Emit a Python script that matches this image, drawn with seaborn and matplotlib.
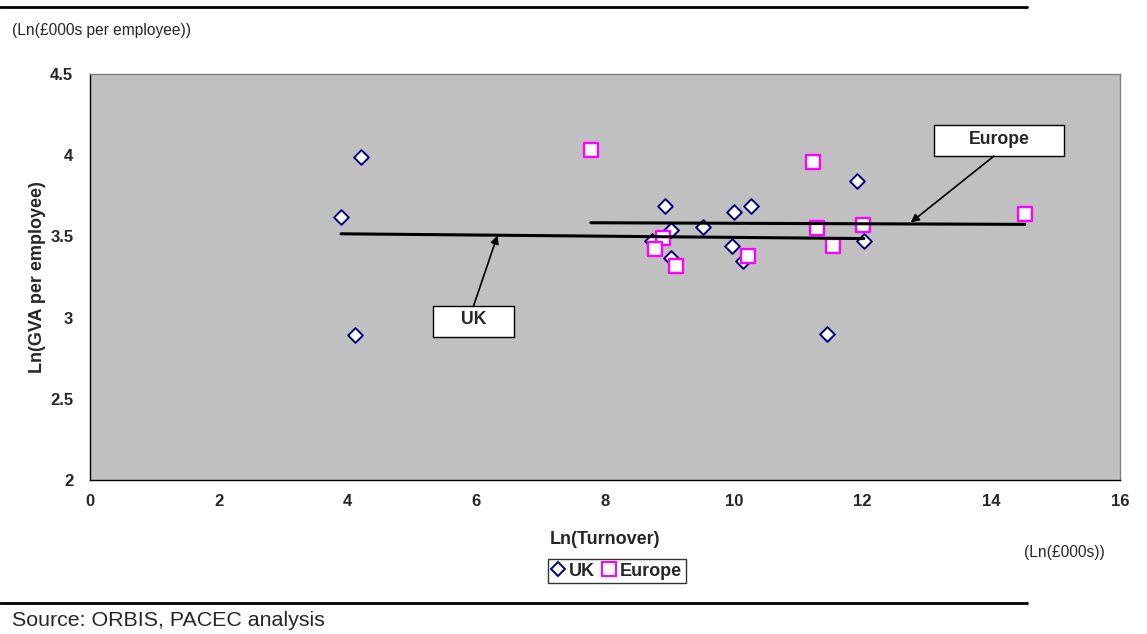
import matplotlib
matplotlib.use("Agg")
import matplotlib.pyplot as plt
from matplotlib.patches import Rectangle
from matplotlib.lines import Line2D
import seaborn as sns
import numpy as np
import pandas as pd

# ---- data ----
uk_x = [3.90, 4.21, 4.12, 8.93, 9.03, 8.73, 9.03, 9.53, 10.00, 10.27, 9.98, 10.14, 11.92, 12.02, 11.45]
uk_y = [3.62, 3.99, 2.89, 3.69, 3.54, 3.47, 3.37, 3.56, 3.65, 3.69, 3.44, 3.35, 3.84, 3.47, 2.90]
eu_x = [7.78, 8.90, 8.78, 9.11, 10.22, 11.23, 11.29, 11.54, 12.00, 14.52]
eu_y = [4.03, 3.49, 3.42, 3.32, 3.38, 3.96, 3.55, 3.44, 3.57, 3.64]
series_names = ["UK", "Europe"]
x_ticks = [0, 2, 4, 6, 8, 10, 12, 14, 16]
y_ticks = [2, 2.5, 3, 3.5, 4, 4.5]

sns.set_theme(style="white")
plt.rcParams['font.family'] = ['Liberation Sans', 'DejaVu Sans']

fig = plt.figure(figsize=(11.47, 6.34), dpi=100)
ax = fig.add_axes([90/1147, 1-480/634, (1120-90)/1147, (480-74)/634])
ax.set_facecolor("#C0C0C0")

uk = pd.DataFrame({"x": uk_x, "y": uk_y})
eu = pd.DataFrame({"x": eu_x, "y": eu_y})

sns.scatterplot(data=uk, x="x", y="y", ax=ax, marker="D", s=56,
                facecolor="white", edgecolor="#000080", linewidth=1.4, zorder=3)
sns.scatterplot(data=eu, x="x", y="y", ax=ax, marker="s", s=88,
                facecolor="white", edgecolor="#FF00FF", linewidth=1.7, zorder=3)

sns.regplot(data=uk, x="x", y="y", ax=ax, scatter=False, ci=None, truncate=True,
            line_kws=dict(color="black", lw=2.2, zorder=4))
sns.regplot(data=eu, x="x", y="y", ax=ax, scatter=False, ci=None, truncate=True,
            line_kws=dict(color="black", lw=2.2, zorder=4))

ax.set_xlim(0, 16)
ax.set_ylim(2, 4.5)
ax.set_xticks(x_ticks)
ax.set_yticks(y_ticks)
ax.set_xticklabels([str(t) for t in x_ticks], fontsize=12, fontweight="bold")
ax.set_yticklabels([f"{t:g}" for t in y_ticks], fontsize=12, fontweight="bold")
ax.tick_params(axis="both", direction="out", length=5, width=1, color="black")
ax.tick_params(axis="x", pad=5)
ax.tick_params(axis="y", pad=7)

for s in ["left", "bottom"]:
    ax.spines[s].set_color("black")
    ax.spines[s].set_linewidth(1.0)
for s in ["top", "right"]:
    ax.spines[s].set_color("#808080")
    ax.spines[s].set_linewidth(1.0)

ax.set_xlabel("Ln(Turnover)", fontsize=13, fontweight="bold", labelpad=16)
ax.set_ylabel("Ln(GVA per employee)", fontsize=13, fontweight="bold", labelpad=3)

# callout boxes
def callout(label, x0, x1, y0, y1, ax_from, xy_to):
    ax.add_patch(Rectangle((x0, y0), x1 - x0, y1 - y0, facecolor="white",
                           edgecolor="black", lw=1.0, zorder=5))
    ax.text((x0 + x1) / 2, (y0 + y1) / 2 + 0.01, label, ha="center", va="center",
            fontsize=12.7, fontweight="bold", zorder=6)
    ax.annotate("", xy=xy_to, xytext=ax_from,
                arrowprops=dict(arrowstyle="-|>", color="black", lw=1.2,
                                mutation_scale=12, shrinkA=0, shrinkB=0), zorder=5)

callout("Europe", 13.11, 15.13, 3.994, 4.185, (14.04, 3.994), (12.75, 3.586))
callout("UK", 5.33, 6.59, 2.883, 3.074, (5.96, 3.074), (6.33, 3.506))

# legend
handles = [Line2D([], [], marker="D", ls="none", markersize=7.5, markerfacecolor="white",
                  markeredgecolor="#000080", markeredgewidth=1.4),
           Line2D([], [], marker="s", ls="none", markersize=10, markerfacecolor="white",
                  markeredgecolor="#FF00FF", markeredgewidth=1.5)]
leg = fig.legend(handles, series_names, loc="center", bbox_to_anchor=(617/1147, 1-571/634),
                 ncol=2, frameon=True, fancybox=False, handlelength=0.7, handletextpad=0.25,
                 columnspacing=0.45, borderpad=0.2, prop=dict(weight="bold", size=13))
leg.get_frame().set_edgecolor("black")
leg.get_frame().set_linewidth(1.0)

# extra text and rules
fig.text(12/1147, 1-30/634, "(Ln(£000s per employee))", fontsize=11.2, va="center", ha="left")
fig.text(1105/1147, 1-552/634, "(Ln(£000s))", fontsize=11.2, va="center", ha="right")
fig.text(12/1147, 1-621/634, "Source: ORBIS, PACEC analysis", fontsize=15.4, va="center", ha="left")
fig.add_artist(Line2D([0, 1027/1147], [1-7/634, 1-7/634], color="black", lw=2))
fig.add_artist(Line2D([0, 1027/1147], [1-603/634, 1-603/634], color="black", lw=2))

fig.savefig("out.png", dpi=100)
